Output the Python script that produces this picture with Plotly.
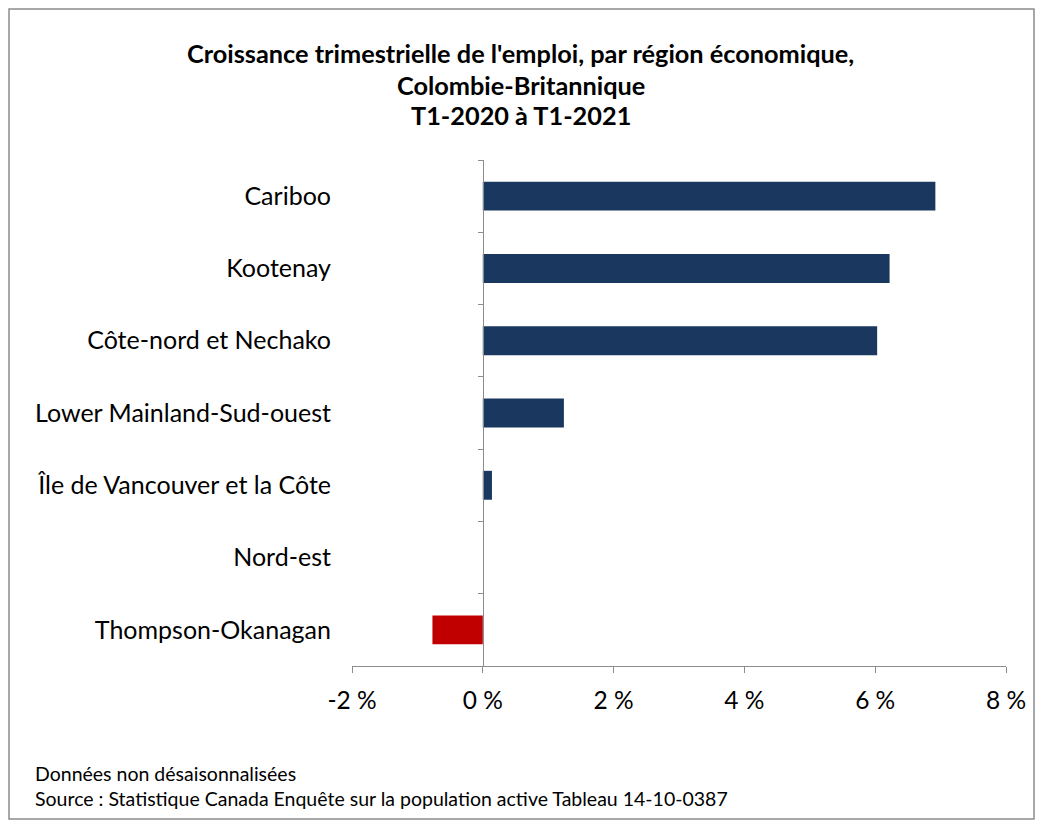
import plotly.graph_objects as go

categories = ["Cariboo", "Kootenay", "Côte-nord et Nechako", "Lower Mainland-Sud-ouest",
              "Île de Vancouver et la Côte", "Nord-est", "Thompson-Okanagan"]
values = [6.92, 6.22, 6.03, 1.24, 0.14, 0.0, -0.77]
tick_vals = [-2, 0, 2, 4, 6, 8]
tick_text = ["-2 %", "0 %", "2 %", "4 %", "6 %", "8 %"]
title_lines = ["Croissance trimestrielle de l'emploi, par région économique,",
               "Colombie-Britannique", "T1-2020 à T1-2021"]
notes = ["Données non désaisonnalisées",
         "Source : Statistique Canada Enquête sur la population active Tableau 14-10-0387"]

W, H = 1041, 827
L, R, T, B = 352, 35, 160, 161
FONT = "Lato"
NAVY = "#1a385f"
RED = "#c00000"
GRID = "#8c8c8c"

colors = [RED if v < 0 else NAVY for v in values]

fig = go.Figure()
fig.add_trace(go.Bar(x=values, y=categories, orientation="h",
                     marker=dict(color=colors, line=dict(width=0)),
                     width=0.4, showlegend=False, hoverinfo="x+y"))
# invisible trace to define the zero axis with tick marks
fig.add_trace(go.Scatter(x=[0] * len(categories), y=categories, yaxis="y2",
                         mode="markers", marker=dict(opacity=0), showlegend=False,
                         hoverinfo="skip"))

plot_w = W - L - R
plot_h = H - T - B
zero_pos = (0 - (-2)) / (8 - (-2))

fig.update_layout(
    width=W, height=H,
    margin=dict(l=L, r=R, t=T, b=B),
    paper_bgcolor="white", plot_bgcolor="white",
    font=dict(family=FONT, color="black"),
    xaxis=dict(range=[-2, 8], tickvals=tick_vals, ticktext=tick_text,
               showgrid=False, zeroline=False, showline=True, linecolor=GRID, linewidth=1,
               ticks="outside", ticklen=6, tickcolor=GRID,
               tickfont=dict(size=24.5, family=FONT), ticklabelstandoff=7),
    yaxis=dict(type="category", categoryorder="array", categoryarray=categories,
               range=[6.5, -0.5], showgrid=False, zeroline=False, showline=False,
               ticks="", tickfont=dict(size=25, family=FONT), ticklabelstandoff=20),
    yaxis2=dict(type="category", categoryorder="array", categoryarray=categories,
                range=[6.5, -0.5], overlaying="y", anchor="free", position=zero_pos,
                showgrid=False, zeroline=False, showline=True, linecolor=GRID, linewidth=1,
                ticks="outside", tickson="boundaries", ticklen=5, tickcolor=GRID,
                showticklabels=False),
)

# title lines
title_y = [53, 85, 115]
for txt, yp in zip(title_lines, title_y):
    fig.add_annotation(text="<b>" + txt + "</b>", xref="paper", yref="paper",
                       x=(W / 2 - L) / plot_w, y=(H - B - yp) / plot_h,
                       xanchor="center", yanchor="middle", showarrow=False,
                       font=dict(size=25.3, family=FONT))
# footnotes
note_y = [773, 798]
for txt, yp in zip(notes, note_y):
    fig.add_annotation(text=txt, xref="paper", yref="paper",
                       x=(33 - L) / plot_w, y=(H - B - yp) / plot_h,
                       xanchor="left", yanchor="middle", showarrow=False,
                       font=dict(size=19.5, family=FONT))

# outer chart border
fig.add_shape(type="rect", xref="paper", yref="paper",
              x0=(9 - L) / plot_w, x1=(1034 - L) / plot_w,
              y0=(H - B - 819) / plot_h, y1=(H - B - 9) / plot_h,
              line=dict(color="#8c8c8c", width=1.5), fillcolor="rgba(0,0,0,0)", layer="below")

fig.write_html("out.html", config={"displayModeBar": False},
               post_script="document.body.style.margin='0';")
